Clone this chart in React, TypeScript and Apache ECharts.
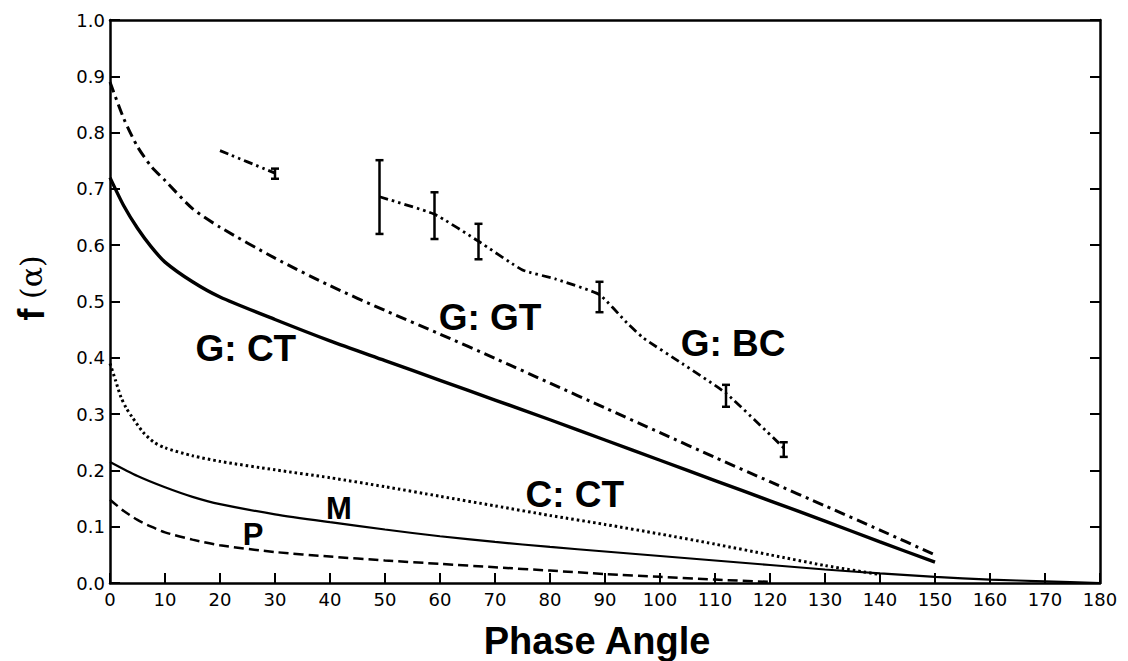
import React, { useEffect, useRef } from "react";
import * as echarts from "echarts";

// ---- Data ----
const gtAngle = [0, 2.5, 5, 7.5, 10, 15, 20, 30, 40, 50, 60, 70, 80, 90, 100, 110, 120, 130, 140, 150];
const gtValue = [0.89, 0.825, 0.775, 0.74, 0.715, 0.665, 0.632, 0.577, 0.528, 0.484, 0.442, 0.399, 0.355, 0.311, 0.267, 0.223, 0.18, 0.137, 0.094, 0.05];

const ctAngle = [0, 2.5, 5, 7.5, 10, 15, 20, 30, 40, 50, 60, 70, 80, 90, 100, 110, 120, 130, 140, 150];
const ctValue = [0.72, 0.67, 0.63, 0.597, 0.57, 0.535, 0.508, 0.468, 0.43, 0.395, 0.36, 0.325, 0.29, 0.254, 0.218, 0.182, 0.146, 0.11, 0.073, 0.037];

const cctAngle = [0, 1, 2, 3, 4, 6, 8, 10, 15, 20, 30, 40, 50, 60, 70, 80, 90, 100, 110, 120, 130, 140];
const cctValue = [0.39, 0.36, 0.33, 0.31, 0.295, 0.268, 0.25, 0.24, 0.226, 0.216, 0.201, 0.187, 0.171, 0.154, 0.137, 0.12, 0.104, 0.087, 0.069, 0.05, 0.031, 0.015];

const mAngle = [0, 5, 10, 15, 20, 30, 40, 50, 60, 70, 80, 90, 100, 110, 120, 130, 140, 150, 160, 170, 180];
const mValue = [0.215, 0.19, 0.17, 0.153, 0.14, 0.122, 0.108, 0.095, 0.083, 0.073, 0.064, 0.056, 0.048, 0.04, 0.032, 0.024, 0.017, 0.011, 0.006, 0.003, 0];

const pAngle = [0, 2.5, 5, 7.5, 10, 15, 20, 30, 40, 50, 60, 70, 80, 90, 100, 110, 120];
const pValue = [0.148, 0.128, 0.112, 0.1, 0.09, 0.077, 0.067, 0.055, 0.047, 0.04, 0.034, 0.028, 0.022, 0.016, 0.011, 0.006, 0.002];

// G: BC measured curve, two separate segments (null = break)
const bcAngle = [20, 30, null, 49, 59, 67, 75, 81, 89, 94, 97, 104, 112, 122.5];
const bcValue = [0.768, 0.728, null, 0.686, 0.655, 0.607, 0.556, 0.54, 0.512, 0.462, 0.435, 0.39, 0.337, 0.24];

// Error bars on G: BC
const barAngle = [30, 49, 59, 67, 89, 112, 122.5];
const barLow = [0.718, 0.62, 0.611, 0.575, 0.481, 0.313, 0.224];
const barHigh = [0.736, 0.751, 0.694, 0.638, 0.535, 0.352, 0.25];

// Curve labels (data coordinates)
const labelText = ["G: CT", "G: GT", "G: BC", "C: CT", "M", "P"];
const labelAngle = [24.7, 69.1, 113.3, 84.5, 41.6, 26];
const labelValue = [0.417, 0.472, 0.426, 0.158, 0.133, 0.087];
const labelSize = [37, 37, 37, 37, 31, 31];

const xTicks = { min: 0, max: 180, interval: 10 };
const yTicks = { min: 0, max: 1, interval: 0.1 };

const pair = (xs: (number | null)[], ys: (number | null)[]) =>
  xs.map((x, i) => (x === null || ys[i] === null ? [null, null] : [x, ys[i]]));

export default function App() {
  const ref = useRef<HTMLDivElement>(null);

  useEffect(() => {
    if (!ref.current) return;
    const chart = echarts.init(ref.current, null, { renderer: "svg" });
    const black = "#000";
    const tickFont = { fontFamily: "DejaVu Sans", fontSize: 18, color: black };

    const line = (name: string, data: any[], width: number, type: any, smooth = 0.25) => ({
      name,
      type: "line",
      data,
      showSymbol: false,
      symbol: "none",
      smooth,
      connectNulls: false,
      silent: true,
      lineStyle: { color: black, width, type, cap: "butt" },
      z: 3,
    });

    chart.setOption({
      animation: false,
      backgroundColor: "#fff",
      grid: { left: 110, right: 28, top: 20, bottom: 78, containLabel: false },
      xAxis: [
        {
          type: "value",
          min: xTicks.min,
          max: xTicks.max,
          interval: xTicks.interval,
          position: "bottom",
          axisLine: { show: true, onZero: false, lineStyle: { color: black, width: 2.5 } },
          axisTick: { show: true, inside: true, length: 10, lineStyle: { color: black, width: 2 } },
          axisLabel: { ...tickFont, margin: 7, formatter: (v: number) => String(v) },
          splitLine: { show: false },
        },
        {
          type: "value",
          min: xTicks.min,
          max: xTicks.max,
          interval: xTicks.interval,
          position: "top",
          axisLine: { show: true, onZero: false, lineStyle: { color: black, width: 2.5 } },
          axisTick: { show: false },
          axisLabel: { show: false },
          splitLine: { show: false },
        },
      ],
      yAxis: [
        {
          type: "value",
          min: yTicks.min,
          max: yTicks.max,
          interval: yTicks.interval,
          position: "left",
          axisLine: { show: true, onZero: false, lineStyle: { color: black, width: 2.5 } },
          axisTick: { show: true, inside: true, length: 10, lineStyle: { color: black, width: 2 } },
          axisLabel: { ...tickFont, margin: 5, formatter: (v: number) => v.toFixed(1) },
          splitLine: { show: false },
        },
        {
          type: "value",
          min: yTicks.min,
          max: yTicks.max,
          interval: yTicks.interval,
          position: "right",
          axisLine: { show: true, onZero: false, lineStyle: { color: black, width: 2.5 } },
          axisTick: { show: true, inside: true, length: 10, lineStyle: { color: black, width: 2 } },
          axisLabel: { show: false },
          splitLine: { show: false },
        },
      ],
      series: [
        line("G: GT", pair(gtAngle, gtValue), 3, [11, 5, 3, 5]),
        line("G: CT", pair(ctAngle, ctValue), 3.4, "solid"),
        line("C: CT", pair(cctAngle, cctValue), 3, [2.5, 3]),
        line("M", pair(mAngle, mValue), 2.2, "solid"),
        line("P", pair(pAngle, pValue), 2.5, [10, 5]),
        line("G: BC", pair(bcAngle, bcValue), 2.8, [9, 4, 2.5, 4, 2.5, 4], 0.15),
        {
          name: "G: BC error",
          type: "custom",
          silent: true,
          z: 4,
          data: barAngle.map((a, i) => [a, barLow[i], barHigh[i]]),
          renderItem: (params: any, api: any) => {
            const lo = api.coord([api.value(0), api.value(1)]);
            const hi = api.coord([api.value(0), api.value(2)]);
            const cap = 4;
            const st = { stroke: black, lineWidth: 2.5 };
            return {
              type: "group",
              children: [
                { type: "line", shape: { x1: lo[0], y1: lo[1], x2: hi[0], y2: hi[1] }, style: st },
                { type: "line", shape: { x1: lo[0] - cap, y1: lo[1], x2: lo[0] + cap, y2: lo[1] }, style: st },
                { type: "line", shape: { x1: hi[0] - cap, y1: hi[1], x2: hi[0] + cap, y2: hi[1] }, style: st },
              ],
            };
          },
        },
        {
          name: "labels",
          type: "scatter",
          silent: true,
          symbolSize: 0,
          itemStyle: { color: "rgba(0,0,0,0)", opacity: 1 },
          z: 5,
          data: labelText.map((t, i) => ({
            value: [labelAngle[i], labelValue[i]],
            label: {
              show: true,
              position: "inside",
              formatter: t,
              fontFamily: "Liberation Sans",
              fontWeight: "bold",
              fontSize: labelSize[i],
              color: black,
              opacity: 1,
              textBorderWidth: 0,
            },
          })),
        },
      ],
      graphic: [
        {
          type: "text",
          x: 597,
          y: 641,
          style: {
            text: "Phase Angle",
            fontFamily: "Liberation Sans",
            fontWeight: "bold",
            fontSize: 38,
            fill: black,
            textAlign: "center",
            textVerticalAlign: "middle",
          },
        },
        {
          type: "text",
          x: 31,
          y: 288,
          rotation: Math.PI / 2,
          style: {
            text: "{b|f}{n| (α)}",
            textAlign: "center",
            textVerticalAlign: "middle",
            rich: {
              b: { fontFamily: "Liberation Sans", fontWeight: "bold", fontSize: 36, fill: black },
              n: { fontFamily: "DejaVu Serif", fontWeight: "normal", fontSize: 30, fill: black },
            },
          },
        },
      ],
    });

    return () => chart.dispose();
  }, []);

  return (
    <div
      ref={ref}
      style={{ position: "fixed", left: 0, top: 0, width: 1128, height: 661, background: "#fff" }}
    />
  );
}
